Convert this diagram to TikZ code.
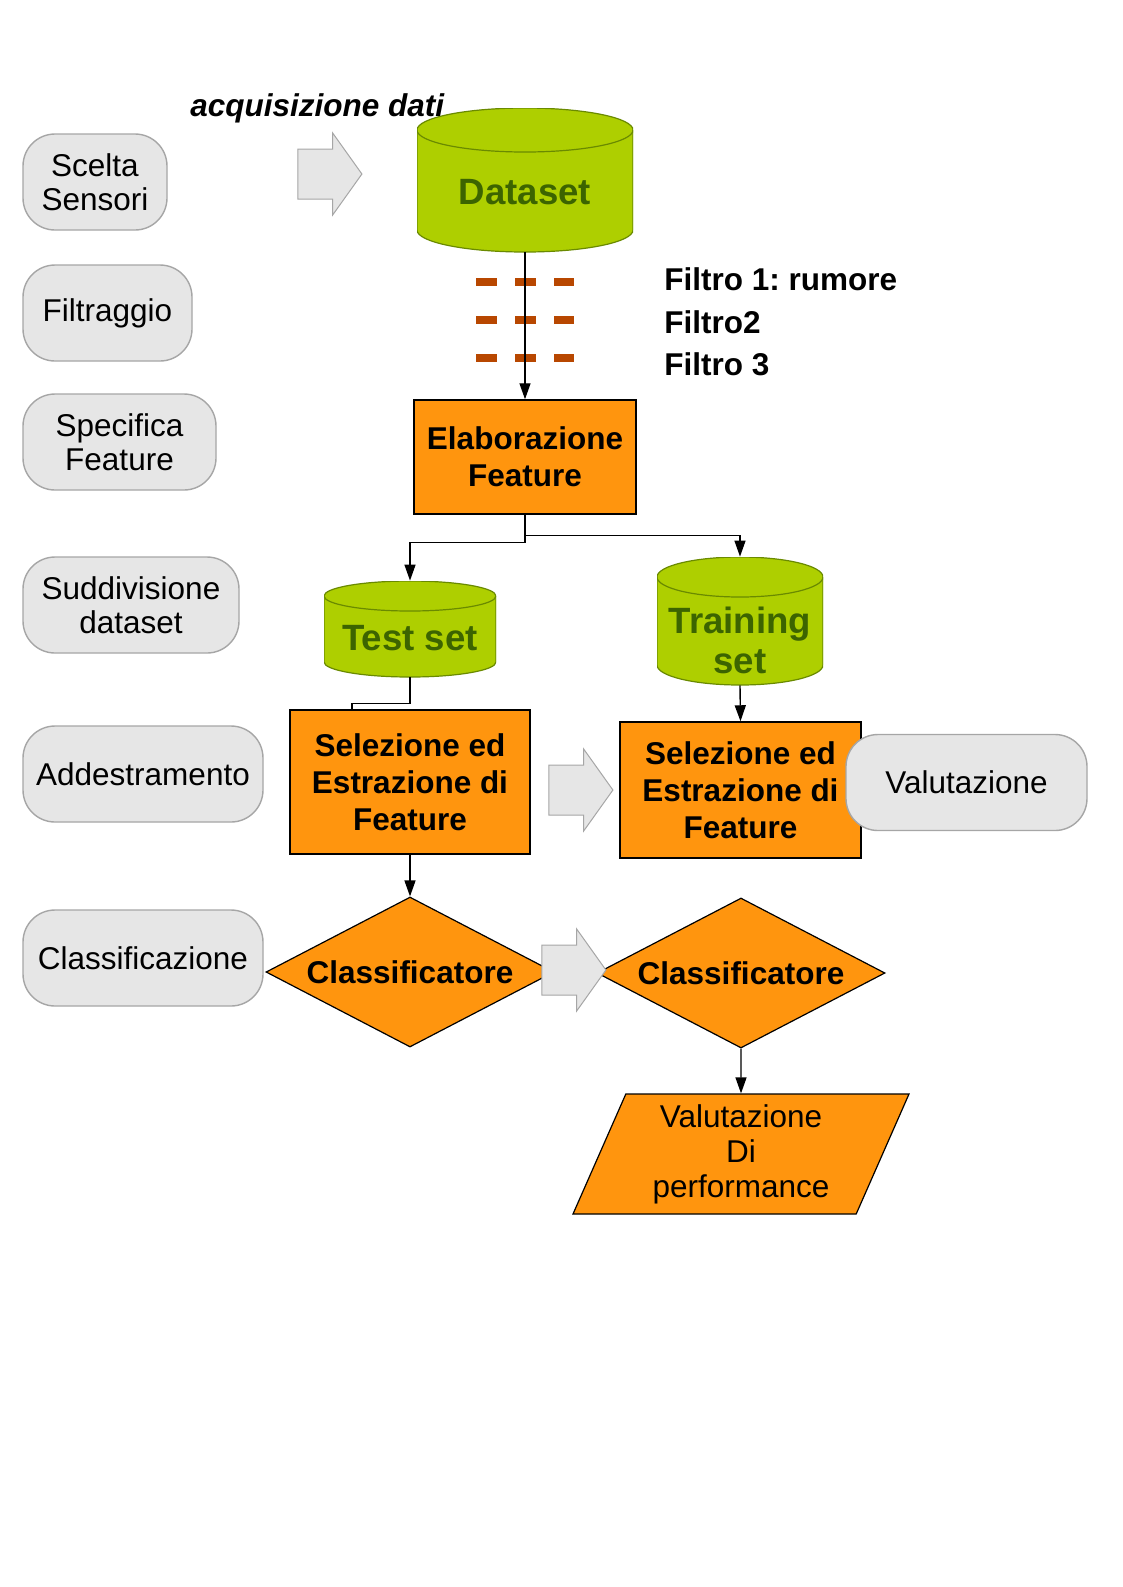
\documentclass[tikz,border=0pt]{standalone}
\usepackage{fontspec}
\setmainfont{Liberation Sans}
\usepackage{xcolor}
\usetikzlibrary{arrows.meta, positioning, shapes}
\frenchspacing

\definecolor{pillfill}{HTML}{E6E6E6}
\definecolor{pillgray}{HTML}{A6A6A6}
\definecolor{boxorange}{HTML}{FF950E}
\definecolor{dbgreen}{HTML}{AECF00}
\definecolor{dbtext}{HTML}{3C6400}
\definecolor{dbborder}{HTML}{6A8A00}
\definecolor{filterred}{HTML}{B84700}

\begin{document}
\begin{tikzpicture}[
    x=0.5pt, y=-0.5pt,
    pill/.style={rectangle, rounded corners=16pt, draw=pillgray, fill=pillfill, line width=0.7pt, align=center, inner sep=0pt, minimum height=48pt, font=\fontsize{15.75}{17.25}\selectfont},
    box/.style={rectangle, draw, fill=boxorange, line width=0.75pt, align=center, inner sep=0pt, font=\fontsize{15.75}{18.5}\selectfont\bfseries},
    db/.style 2 args={rectangle, fill=white, inner sep=0pt, minimum width=2*#1, text=dbtext, align=center, text depth=0pt, font=\fontsize{18.3}{20}\selectfont\bfseries,
      path picture={
        \path[draw=dbborder, fill=dbgreen, line width=0.6pt]
          ([yshift=-#2]path picture bounding box.north west)
          -- ([yshift=#2]path picture bounding box.south west)
          arc[start angle=180, end angle=360, x radius=#1, y radius=#2]
          -- ([yshift=-#2]path picture bounding box.north east)
          arc[start angle=0, end angle=180, x radius=#1, y radius=#2] -- cycle;
        \draw[dbborder, line width=0.6pt]
          ([yshift=-#2]path picture bounding box.north west)
          arc[start angle=180, end angle=360, x radius=#1, y radius=#2];
      }},
    decision/.style={diamond, aspect=2, draw, fill=boxorange, line width=0.6pt, inner sep=0pt, minimum width=144pt, minimum height=75pt, font=\fontsize{15.75}{18.5}\selectfont\bfseries},
    output/.style={trapezium, trapezium left angle=62, trapezium right angle=118, trapezium stretches body, draw, fill=boxorange, line width=0.6pt, align=center, inner sep=0pt, minimum width=168pt, minimum height=60pt, font=\fontsize{15.75}{17.5}\selectfont},
    bigarrow/.style={single arrow, single arrow tip angle=109, single arrow head extend=8pt, single arrow head indent=0pt, draw=pillgray, fill=pillfill, line width=0.5pt, inner xsep=0pt, inner ysep=12.25pt, minimum height=32pt},
    label/.style={anchor=base west, inner sep=0pt, font=\fontsize{15.75}{18}\selectfont\bfseries},
    arrow/.style={-{Triangle[length=8pt, width=5.5pt]}, line width=0.7pt},
    link/.style={line width=0.7pt},
    filterdash/.style={draw=filterred, line width=4pt, dash pattern=on 10.5pt off 9pt}
  ]
    \useasboundingbox (0,0) rectangle (1123,1587);

    % phases on the left
    \node[pill, minimum width=72pt] (scelta) at (95,182) {Scelta\\Sensori};
    \node[pill, minimum width=84.5pt] (filtr) at (107.5,313) {Filtraggio};
    \node[pill, minimum width=96.5pt] (spec) at (119.5,442) {Specifica\\Feature};
    \node[pill, minimum width=108pt] (sudd) at (131,605) {Suddivisione\\dataset};
    \node[pill, minimum width=120pt] (addestr) at (143,774) {Addestramento};
    \node[pill, minimum width=120pt] (classif) at (143,958) {Classificazione};

    % acquisition and filters
    \node[db={54pt}{11pt}, minimum height=72pt, text height=24pt] (dataset) at (525,180) {Dataset};
    \node[label, font=\fontsize{15.75}{18}\selectfont\bfseries\itshape] (acq) at (190,116) {acquisizione dati};
    \node[bigarrow] (acqarrow) at (321,174) {};

    \draw[filterdash] (476,282) -- (574,282);
    \draw[filterdash] (476,320) -- (574,320);
    \draw[filterdash] (476,358) -- (574,358);
    \node[label] (filtro1) at (664,290) {Filtro 1: rumore};
    \node[label] (filtro2) at (664,333) {Filtro2};
    \node[label] (filtro3) at (664,375) {Filtro 3};

    % features, split, training
    \node[box, minimum width=111pt, minimum height=57pt] (elab) at (525,457) {Elaborazione\\Feature};
    \node[db={43pt}{7.5pt}, minimum height=48pt, text height=21pt] (test) at (410,629) {Test set};
    \node[db={41.5pt}{10pt}, minimum height=64pt, text height=52pt] (train) at (740,621) {Training\\set};
    \node[box, minimum width=120pt, minimum height=72pt] (sel1) at (410,782) {Selezione ed\\Estrazione di\\Feature};
    \node[box, minimum width=120.5pt, minimum height=68pt] (sel2) at (740.5,790) {Selezione ed\\Estrazione di\\Feature};
    \node[pill, minimum width=120.5pt] (valut) at (966.5,782.5) {Valutazione};
    \node[bigarrow] (selarrow) at (572,790) {};

    % classification
    \node[decision] (cls1) at (410,972) {Classificatore};
    \node[decision] (cls2) at (741,973) {Classificatore};
    \node[bigarrow] (clsarrow) at (565,970) {};
    \node[output] (perf) at (741,1154) {Valutazione\\Di\\performance};

    \draw[arrow] (dataset.south) -- (elab.north);
    \draw[arrow] (elab.south) -- ++(0,28) -| (test.north);
    \draw[arrow] (elab.south) -- ++(0,21) -| (train.north);
    \draw[link] (test.south) -- ++(0,26) -| ([xshift=-29pt]sel1.north);
    \draw[arrow] (train.south) -- (sel2.north);
    \draw[arrow] (sel1.south) -- (cls1.north);
    \draw[arrow] (cls2.south) -- (perf.north);
  \end{tikzpicture}
\end{document}
